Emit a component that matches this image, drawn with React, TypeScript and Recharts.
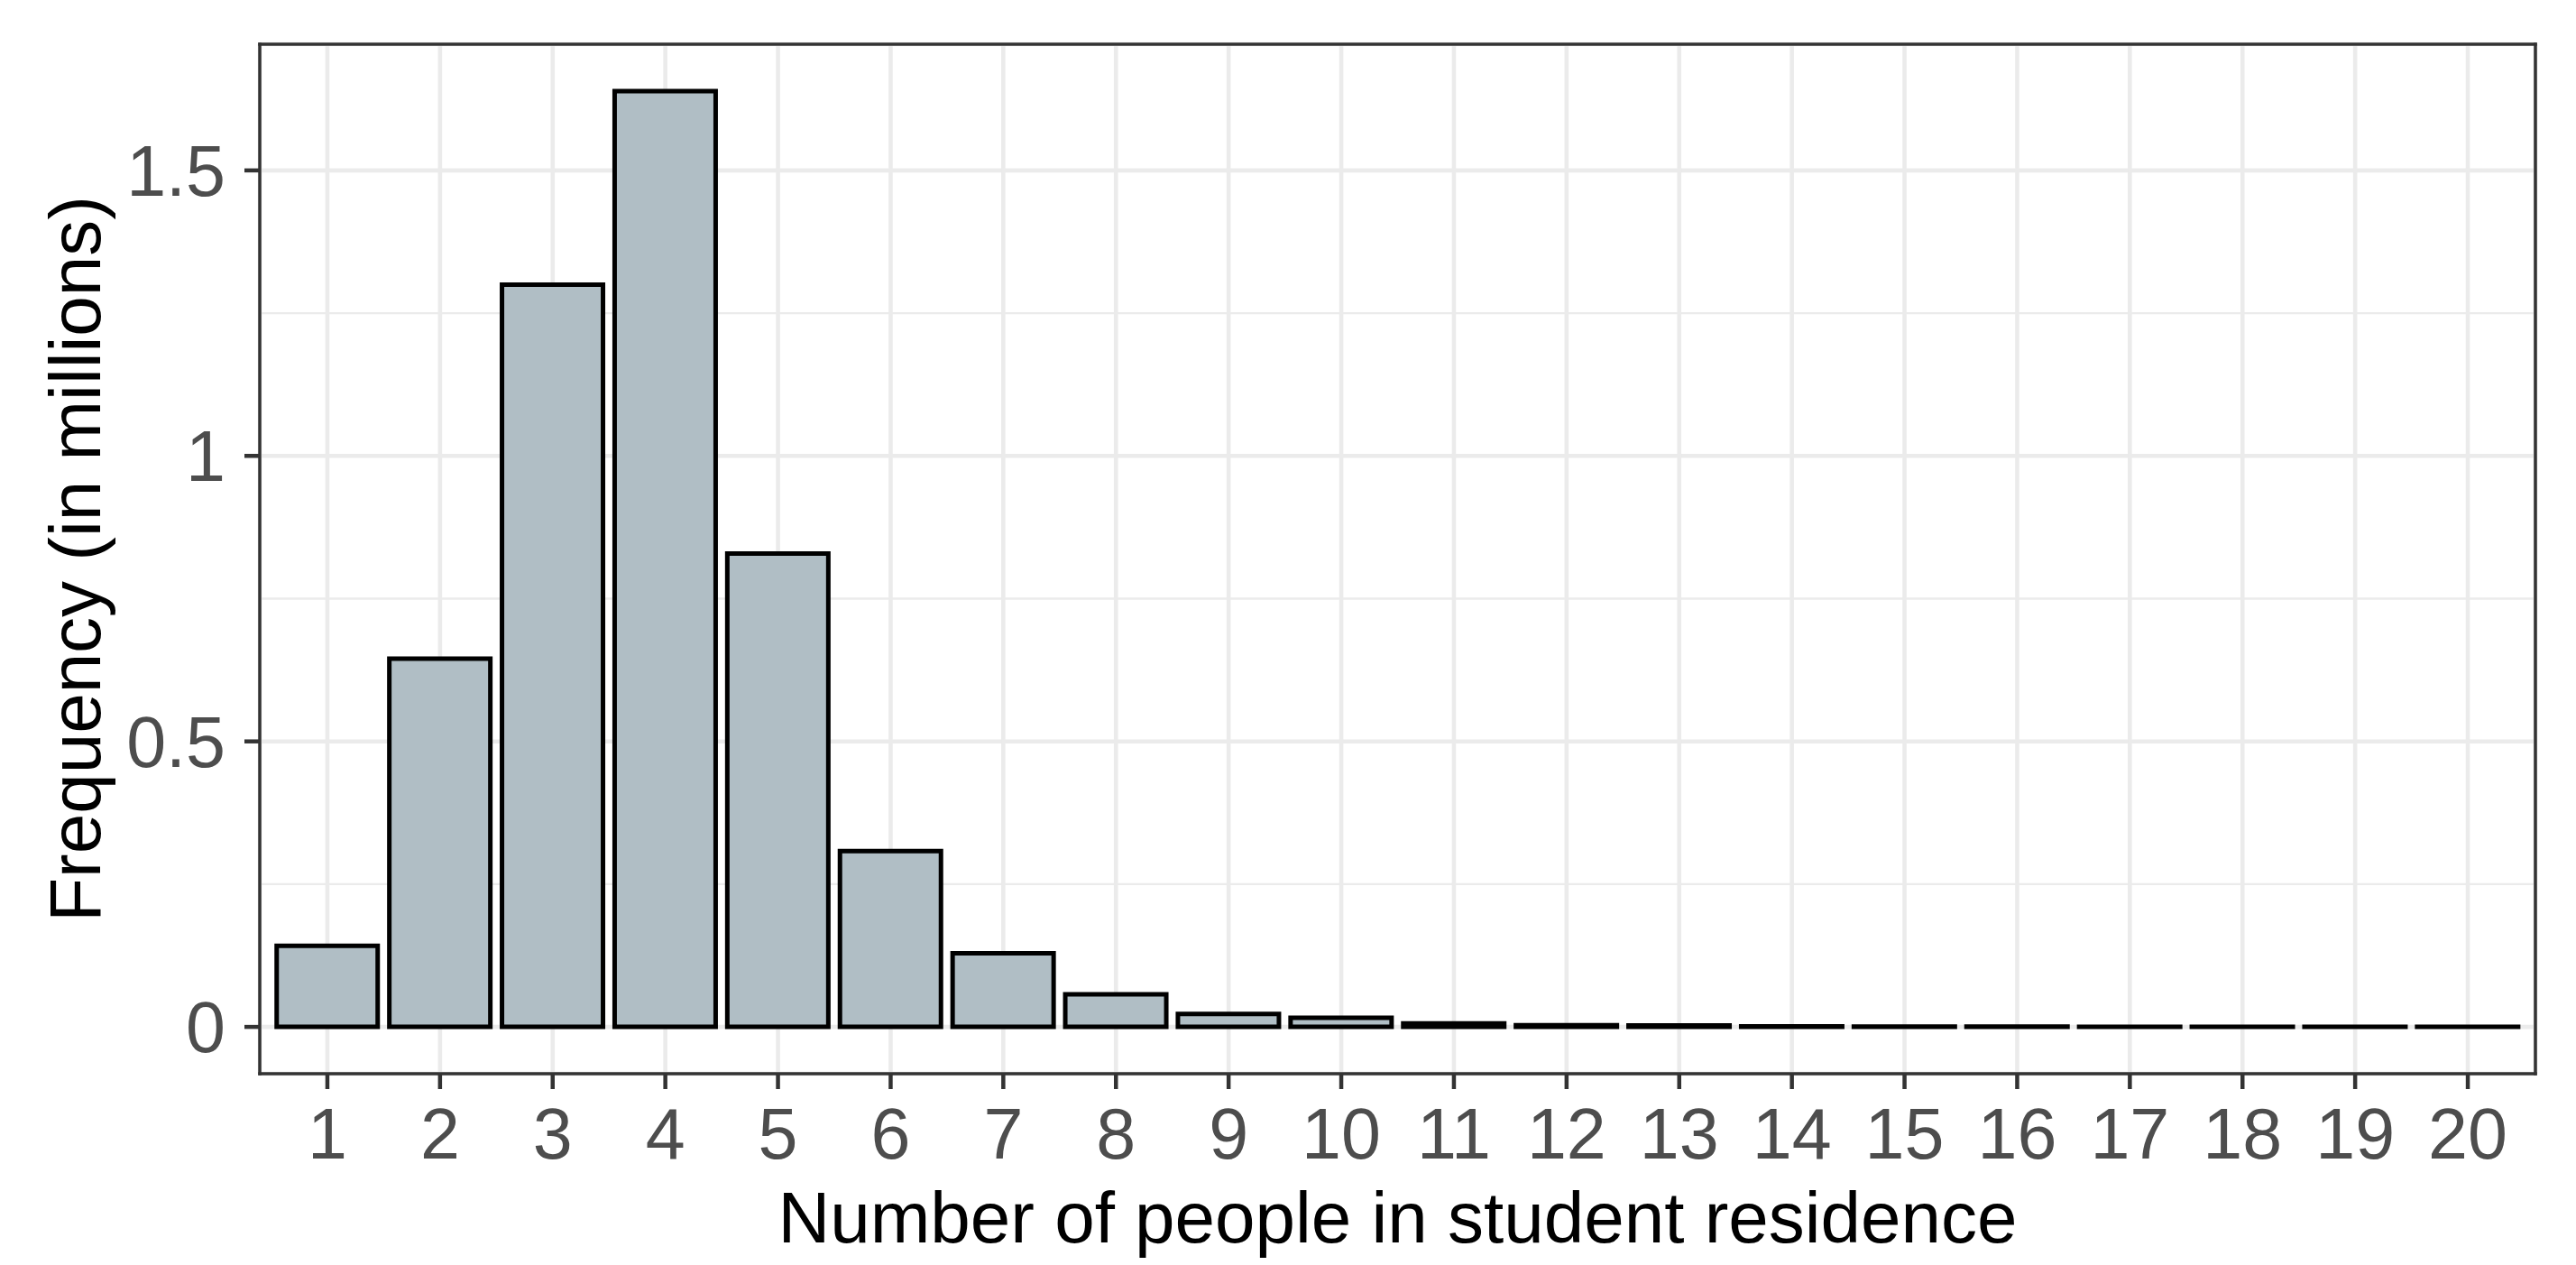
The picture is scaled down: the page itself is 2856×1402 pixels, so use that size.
import React from "react";
import { Bar, BarChart, CartesianGrid, XAxis, YAxis } from "recharts";

// household sizes (people per residence)
const people = [1, 2, 3, 4, 5, 6, 7, 8, 9, 10, 11, 12, 13, 14, 15, 16, 17, 18, 19, 20];
// frequency, in millions
const frequency = [
  0.142, 0.645, 1.3, 1.639, 0.829, 0.308, 0.129, 0.057, 0.0225, 0.0158,
  0.006, 0.003, 0.0025, 0.001, 0.0006, 0.0004, 0.0003, 0.0002, 0.0002, 0.0001,
];
const yTicks = [0, 0.5, 1, 1.5];
const yMinor = [0.25, 0.75, 1.25];
const yDomain = [-0.082, 1.721];

const data = people.map((n, i) => ({ n: String(n), freq: frequency[i] }));

const font = "'Liberation Sans', Arial, sans-serif";
const tickText = { fill: "#4D4D4D", fontSize: 79, fontFamily: font };
const tickLine = { stroke: "#333333", strokeWidth: 4.5 };

// panel border: lines at the plot area's edges
const borderRows = ({ offset }: any) => [offset.top, offset.top + offset.height];
const borderCols = ({ offset }: any) => [offset.left, offset.left + offset.width];

export default function App() {
  return (
    <div
      style={{
        position: "absolute",
        left: 0,
        top: 0,
        width: 2856,
        height: 1402,
        background: "#fff",
        fontFamily: font,
      }}
    >
      <BarChart
        width={2856}
        height={1402}
        data={data}
        margin={{ top: 49, right: 45, bottom: 0, left: 0 }}
        barCategoryGap="5%"
      >
        <CartesianGrid
          stroke="#EBEBEB"
          strokeWidth={2.3}
          vertical={false}
          horizontalValues={yMinor}
        />
        <CartesianGrid stroke="#EBEBEB" strokeWidth={4.6} />
        <CartesianGrid
          stroke="#333333"
          strokeWidth={3.5}
          strokeLinecap="square"
          horizontalCoordinatesGenerator={borderRows}
          verticalCoordinatesGenerator={borderCols}
        />
        <XAxis
          dataKey="n"
          height={212}
          interval={0}
          padding={{ left: 12.5, right: 12.5 }}
          tickSize={17}
          tickMargin={21}
          tick={tickText}
          tickLine={tickLine}
          axisLine={false}
          label={{
            value: "Number of people in student residence",
            position: "insideBottom",
            offset: 25,
            fill: "#000",
            fontSize: 80,
            fontFamily: font,
          }}
        />
        <YAxis
          type="number"
          width={288}
          domain={yDomain}
          ticks={yTicks}
          allowDataOverflow
          tickSize={17}
          tickMargin={21}
          tick={tickText}
          tickLine={tickLine}
          axisLine={false}
          label={{
            value: "Frequency (in millions)",
            angle: -90,
            position: "insideLeft",
            offset: 83,
            fill: "#000",
            fontSize: 80,
            fontFamily: font,
            style: { textAnchor: "middle" },
          }}
        />
        <Bar
          dataKey="freq"
          fill="#B0BEC5"
          stroke="#000000"
          strokeWidth={5}
          isAnimationActive={false}
        />
      </BarChart>
    </div>
  );
}
